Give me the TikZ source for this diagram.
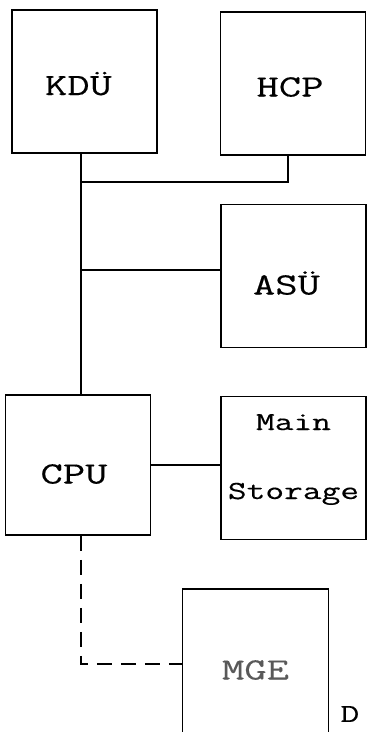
\documentclass[tikz,border=0pt]{standalone}
\usepackage{fontspec}
\setmonofont[FakeStretch=1.4, FakeBold=0.35]{Latin Modern Mono}
\usetikzlibrary{positioning}

\begin{document}
\begin{tikzpicture}[x=1pt, y=-1pt,
    unit/.style={font=\ttfamily\fontsize{31}{36}\selectfont, align=center,
                 draw=black, line width=1.9pt, rectangle, inner sep=0pt,
                 text depth=0pt, text height=27pt,
                 minimum width=145pt, minimum height=143pt},
    link/.style={line width=1.8pt, black},
    dashlink/.style={link, dash pattern=on 15pt off 9pt},
]
\useasboundingbox (0,0) rectangle (367,732);

\node[unit] (KDU)  at (84.5, 81.5)  {KDÜ\hspace*{12pt}};
\node[unit, text height=26pt] (HCP)  at (293, 83.5)   {HCP\hspace*{6pt}};
\node[unit, text height=37pt] (ASU)  at (293.5, 276)  {ASÜ\hspace*{14pt}};
\node[unit, text height=37pt, minimum height=140pt] (CPU) at (78, 465) {CPU\hspace*{8pt}};
\node[unit, font=\ttfamily\fontsize{26}{69}\selectfont, text height=62pt] (Main) at (293.5, 468)
    {\begin{tabular}[b]{@{}c@{}}Main\\Storage\end{tabular}};
\node[unit, text height=21pt, minimum width=146pt, minimum height=160pt, text=black!65] (MGE) at (255.5, 669) {MGE};
\node[font=\ttfamily\fontsize{26}{28}\selectfont, anchor=west] (note) at (337, 714) {D};

\coordinate (busHCP) at (81, 182);
\coordinate (busASU) at (81, 270);
\coordinate (busMGE) at (81, 664);

\draw[link] (KDU.south -| busHCP) -- (CPU.north -| busHCP);
\draw[link] ([xshift=-5pt]HCP.south) |- (busHCP);
\draw[link] (busASU) -- (busASU -| ASU.west);
\draw[link] (CPU.east) -- (CPU.east -| Main.west);
\draw[dashlink] (CPU.south -| busMGE) -- (busMGE) -- (busMGE -| MGE.west);
\end{tikzpicture}
\end{document}
